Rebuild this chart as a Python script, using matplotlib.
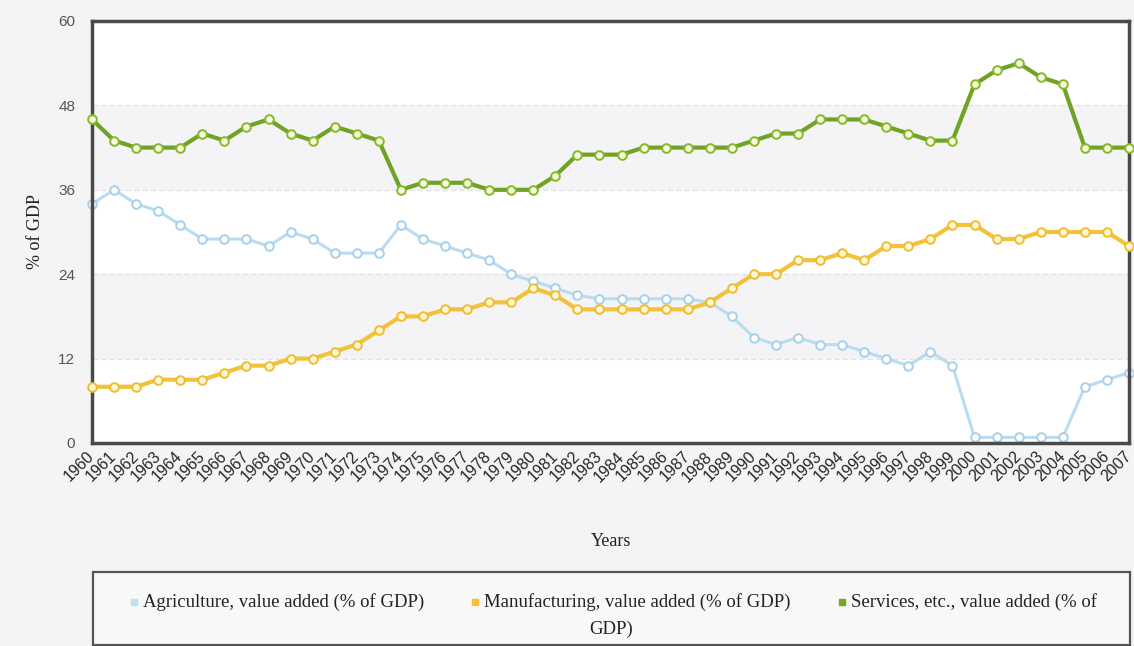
import matplotlib
matplotlib.use("Agg")
import matplotlib.pyplot as plt
from matplotlib.patches import Rectangle
from matplotlib.lines import Line2D
from matplotlib.transforms import ScaledTranslation

years = list(range(1960, 2008))

agriculture = [34, 36, 34, 33, 31, 29, 29, 29, 28, 30,
               29, 27, 27, 27, 31, 29, 28, 27, 26, 24,
               23, 22, 21, 20.5, 20.5, 20.5, 20.5, 20.5, 20, 18,
               15, 14, 15, 14, 14, 13, 12, 11, 13, 11,
               0.8, 0.8, 0.8, 0.8, 0.8, 8, 9, 10]

manufacturing = [8, 8, 8, 9, 9, 9, 10, 11, 11, 12,
                 12, 13, 14, 16, 18, 18, 19, 19, 20, 20,
                 22, 21, 19, 19, 19, 19, 19, 19, 20, 22,
                 24, 24, 26, 26, 27, 26, 28, 28, 29, 31,
                 31, 29, 29, 30, 30, 30, 30, 28]

services = [46, 43, 42, 42, 42, 44, 43, 45, 46, 44,
            43, 45, 44, 43, 36, 37, 37, 37, 36, 36,
            36, 38, 41, 41, 41, 42, 42, 42, 42, 42,
            43, 44, 44, 46, 46, 46, 45, 44, 43, 43,
            51, 53, 54, 52, 51, 42, 42, 42]

y_ticks = [0, 12, 24, 36, 48, 60]

series_names = ["Agriculture, value added (% of GDP)",
                "Manufacturing, value added (% of GDP)",
                "Services, etc., value added (% of"]
wrapped_tail = "GDP)"

W, H = 1134, 646
fig = plt.figure(figsize=(W / 100, H / 100), dpi=100)
fig.patch.set_facecolor("#f4f4f4")


def fx(px):
    return px / W


def fy(py):
    return 1 - py / H


left, right, top, bottom = 92, 1129, 21, 443
ax = fig.add_axes([fx(left), fy(bottom), fx(right - left), (bottom - top) / H])
ax.set_facecolor("white")

# alternating horizontal bands and faint grid lines
for lo, hi in [(12, 24), (36, 48)]:
    ax.axhspan(lo, hi, color="#f4f4f6", zorder=0, lw=0)
for v in [12, 24, 36, 48]:
    ax.axhline(v, color="#e4e4e4", lw=1, ls=(0, (4, 2)), zorder=0.5)

styles = [
    (agriculture, "#b9dcf2", "#a6d0ec", "#ffffff", 2.2),
    (manufacturing, "#f3c13a", "#efbd33", "#fff8d2", 3.0),
    (services, "#6ea326", "#88b72c", "#f6fbdc", 3.0),
]
for i, (vals, lc, mec, mfc, lw) in enumerate(styles):
    ax.plot(years, vals, color=lc, lw=lw, marker="o", markersize=6.2,
            markerfacecolor=mfc, markeredgecolor=mec, markeredgewidth=1.4,
            zorder=2 + i, clip_on=False)

ax.set_xlim(1960, 2007)
ax.set_ylim(0, 60)
ax.set_yticks(y_ticks)
ax.set_yticklabels([str(t) for t in y_ticks], fontsize=11, color="#555555",
                   family="Liberation Sans")
ax.set_xticks(years)
ax.set_xticklabels([str(y) for y in years], rotation=45, ha="right",
                   va="center", rotation_mode="anchor", fontsize=11.5,
                   color="#262626", family="Liberation Sans")
shift = ScaledTranslation(-5 / 100, 0, fig.dpi_scale_trans)
for lab in ax.get_xticklabels():
    lab.set_transform(lab.get_transform() + shift)
ax.tick_params(axis="both", length=0)
ax.tick_params(axis="y", pad=12)
ax.tick_params(axis="x", pad=8)
for s in ax.spines.values():
    s.set_color("#4a4a4a")
    s.set_linewidth(2.5)

fig.text(fx(35), fy(232), "% of GDP", rotation=90, ha="center", va="center",
         fontsize=13, family="Liberation Serif", color="#222222")
fig.text(fx(611), fy(541), "Years", ha="center", va="center",
         fontsize=13, family="Liberation Serif", color="#222222")

# legend box drawn in figure coordinates
box = Rectangle((fx(93), fy(645)), fx(1130 - 93), (645 - 572) / H,
                transform=fig.transFigure, facecolor="#f8f8f8",
                edgecolor="#555555", lw=1.6)
fig.patches.append(box)

legend_colors = ["#bfe0f5", "#f5c038", "#76a82a"]
row1 = fy(602)
fs = 13.5
renderer = fig.canvas.get_renderer()
texts = [fig.text(0, row1, name, ha="left", va="center", fontsize=fs,
                  family="Liberation Serif", color="#222222")
         for name in series_names]
widths = [t.get_window_extent(renderer).width for t in texts]
mark_w, mark_gap, entry_gap = 6, 6, 48
total = sum(widths) + 3 * (mark_w + mark_gap) + 2 * entry_gap
x = 614 - total / 2
for t, w, c in zip(texts, widths, legend_colors):
    fig.add_artist(Line2D([fx(x + mark_w / 2)], [row1], marker="s",
                          markersize=4.5, color=c, transform=fig.transFigure))
    t.set_x(fx(x + mark_w + mark_gap))
    x += mark_w + mark_gap + w + entry_gap
fig.text(fx(611), fy(629), wrapped_tail, ha="center", va="center",
         fontsize=fs, family="Liberation Serif", color="#222222")

fig.savefig("out.png", dpi=100, facecolor=fig.get_facecolor())
